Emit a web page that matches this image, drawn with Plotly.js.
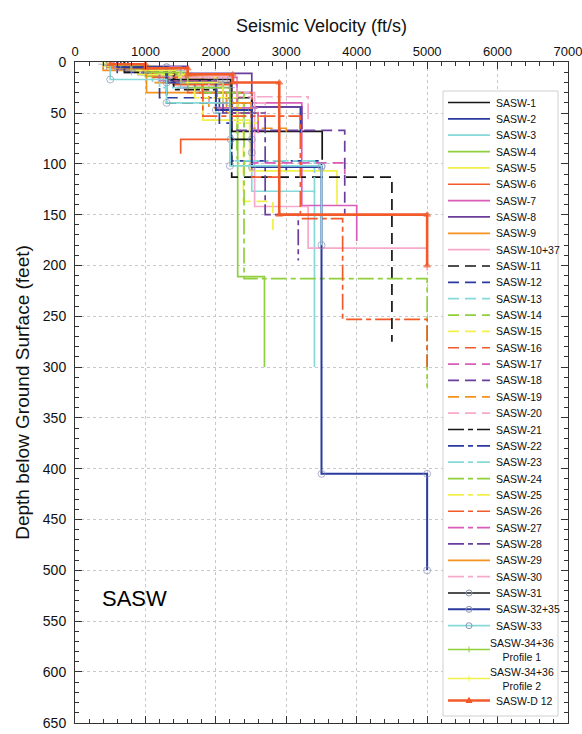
<!DOCTYPE html>
<html>
<head>
<meta charset="utf-8">
<script src="https://cdn.plot.ly/plotly-3.0.1.min.js"></script>
<style>html,body{margin:0;padding:0;background:#fff;}#chart{width:582px;height:734px;}</style>
</head>
<body>
<div id="chart"></div>
<script>
// ---------------- DATA ----------------
const seriesNames = [
  "SASW-1","SASW-2","SASW-3","SASW-4","SASW-5","SASW-6","SASW-7","SASW-8","SASW-9","SASW-10+37",
  "SASW-11","SASW-12","SASW-13","SASW-14","SASW-15","SASW-16","SASW-17","SASW-18","SASW-19","SASW-20",
  "SASW-21","SASW-22","SASW-23","SASW-24","SASW-25","SASW-26","SASW-27","SASW-28","SASW-29","SASW-30",
  "SASW-31","SASW-32+35","SASW-33","SASW-34+36<br>Profile 1","SASW-34+36<br>Profile 2","SASW-D 12"
];
// layer velocities (ft/s), one list per profile
const profileVelocities = [
  [750, 1415, 2225, 3510],
  [500, 900, 1700, 2510, 3200],
  [600, 1300, 2000, 2510, 3400],
  [450, 630, 1000, 1800, 2310, 2690],
  [400, 900, 1815, 2480, 3720],
  [540, 1400, 2210, 1500],
  [600, 1500, 2300, 3220, 4000],
  [700, 1600, 2510, 3220],
  [400, 1015, 2150, 2600],
  [550, 1200, 2000, 2550, 3310, 5000],
  [650, 1300, 2225, 4500],
  [600, 1200, 2050, 2225, 3500],
  [500, 1100, 2000, 2400],
  [500, 1200, 1900, 2300],
  [450, 1100, 2000, 2390, 2810],
  [500, 1000, 1600, 2510, 2900],
  [500, 1300, 2100, 2510, 3830],
  [600, 1400, 2225, 3830],
  [450, 1100, 1900, 2510, 3000],
  [500, 1200, 1900, 2700],
  [700, 1400, 2010, 2510],
  [600, 1300, 2000, 2510, 3000],
  [500, 1200, 2200, 3400],
  [500, 1100, 1800, 2400, 5000],
  [400, 1000, 1700, 2300, 2600],
  [500, 1100, 1815, 3200, 3800, 5000],
  [550, 1200, 2000, 2600],
  [600, 1300, 2100, 2700, 3170],
  [500, 1300, 2000, 2500],
  [600, 1500, 2300, 3310],
  [700, 1300, 2210, 2510],
  [600, 1300, 2000, 2510, 3500, 5000],
  [500, 1300, 2200, 3500],
  [450, 1000, 1600, 2200],
  [400, 800, 1500, 2100],
  [500, 1000, 1600, 2240, 2900, 5000]
];
// layer boundary depths (feet), one list per profile (top of first layer ... bottom of last)
const profileDepths = [
  [0, 8, 20, 68, 96],
  [0, 4, 12, 30, 44, 70],
  [0, 6, 18, 50, 127, 300],
  [0, 2, 7, 14, 30, 211, 300],
  [0, 3, 12, 57, 107, 140],
  [0, 6, 22, 76, 90],
  [0, 5, 15, 40, 141, 176],
  [0, 4, 11, 44, 66],
  [0, 8, 30, 50, 60],
  [0, 5, 15, 30, 142, 183, 205],
  [0, 6, 40, 113, 275],
  [0, 10, 35, 60, 97, 105],
  [0, 5, 20, 45, 65],
  [0, 4, 15, 40, 95],
  [0, 5, 15, 40, 137, 168],
  [0, 4, 12, 30, 113, 127],
  [0, 5, 20, 50, 99, 110],
  [0, 6, 25, 67, 150],
  [0, 5, 20, 45, 65, 75],
  [0, 4, 15, 40, 65],
  [0, 10, 27, 35, 50],
  [0, 6, 18, 40, 102, 110],
  [0, 5, 25, 97, 130],
  [0, 4, 12, 30, 213, 320],
  [0, 4, 12, 35, 60],
  [0, 5, 15, 53, 154, 253, 300],
  [0, 5, 18, 45, 70],
  [0, 6, 20, 50, 150, 195],
  [0, 6, 20, 40, 55],
  [0, 5, 15, 34, 60],
  [0, 5, 17, 76, 89],
  [0, 5, 20, 47, 103, 405, 500],
  [0, 17, 40, 102, 180],
  [0, 3, 10, 25, 45],
  [0, 2, 8, 20, 40],
  [0, 2, 6, 12, 20, 150, 200]
];

// ---------------- STYLES ----------------
const baseColors = ["#151515","#2b3a9e","#86d9d9","#8fd03c","#f2f04a","#f25a2a","#d95cb9","#6b3e9c","#f5911f","#f6a9cb"];
const dashSolid = "solid", dashDash = "11px,6px", dashDot = "16px,4px,5px,4px";
const extraColors = ["#151515","#2b3a9e","#86d9d9","#8fd03c","#f2f04a","#f25a2a"];
const extraMarkers = ["circle-open","circle-open","circle-open","cross-thin-open","cross-thin-open","triangle-up"];

function styleFor(i) {
  if (i < 30) {
    const c = baseColors[i % 10];
    let d = i < 10 ? dashSolid : (i < 20 ? dashDash : dashDot);
    if (i === 28) d = dashSolid;
    return {color: c, dash: d, width: 1.7, marker: null};
  }
  const k = i - 30;
  return {color: extraColors[k], dash: dashSolid, width: k === 5 ? 2.6 : (k === 1 ? 2 : 1.7), marker: extraMarkers[k]};
}

const traces = [];
for (let i = 0; i < seriesNames.length; i++) {
  const v = profileVelocities[i], d = profileDepths[i];
  const xs = [], ys = [];
  for (let j = 0; j < v.length; j++) {
    xs.push(v[j]); ys.push(d[j]);
    xs.push(v[j]); ys.push(d[j + 1]);
  }
  const st = styleFor(i);
  const tr = {
    x: xs, y: ys, type: "scatter", name: seriesNames[i],
    mode: st.marker ? "lines+markers" : "lines",
    line: {color: st.color, width: st.width, dash: st.dash},
    hoverinfo: "skip"
  };
  if (st.marker) {
    const isTri = st.marker === "triangle-up";
    const mcol = isTri ? st.color : "#8a94b8";
    tr.marker = {symbol: st.marker, size: ys.map(y => (y > 0 ? (isTri ? 6 : 7) : 0)),
      color: mcol, line: {color: mcol, width: 1}};
  }
  traces.push(tr);
}

// ---------------- LEGEND (drawn manually) ----------------
const plotL = 75, plotR = 568, plotT = 62, plotB = 723;
const px2x = p => (p - plotL) / (plotR - plotL);
const px2y = p => (plotB - p) / (plotB - plotT);

const shapes = [];
const annotations = [];
shapes.push({type: "rect", xref: "paper", yref: "paper",
  x0: px2x(443), x1: px2x(558), y0: px2y(716), y1: px2y(91),
  line: {color: "#d0d0d0", width: 1}, fillcolor: "#ffffff", layer: "above"});

const entryY = [];
for (let i = 0; i < 33; i++) entryY.push(102.5 + i * 16.35);
entryY.push(649.5); entryY.push(678.5); entryY.push(700.5);

for (let i = 0; i < seriesNames.length; i++) {
  const st = styleFor(i);
  const y = px2y(entryY[i]);
  shapes.push({type: "line", xref: "paper", yref: "paper",
    x0: px2x(448), x1: px2x(490), y0: y, y1: y,
    line: {color: st.color, width: st.width, dash: st.dash}, layer: "above"});
  if (st.marker) {
    if (st.marker === "circle-open") {
      shapes.push({type: "circle", xref: "paper", yref: "paper", xsizemode: "pixel", ysizemode: "pixel",
        xanchor: px2x(469), yanchor: y, x0: -3, x1: 3, y0: -3, y1: 3,
        line: {color: "#8a94b8", width: 1}, layer: "above"});
    } else if (st.marker === "triangle-up") {
      shapes.push({type: "path", xref: "paper", yref: "paper", xsizemode: "pixel", ysizemode: "pixel",
        xanchor: px2x(469), yanchor: y, path: "M-3,-2 L3,-2 L0,3 Z",
        fillcolor: st.color, line: {color: st.color, width: 1}, layer: "above"});
    } else {
      shapes.push({type: "line", xref: "paper", yref: "paper", xsizemode: "pixel", ysizemode: "pixel",
        xanchor: px2x(469), yanchor: y, x0: 0, x1: 0, y0: -3, y1: 3,
        line: {color: st.color, width: 1}, layer: "above"});
    }
  }
  const twoLine = seriesNames[i].indexOf("<br>") >= 0;
  annotations.push({xref: "paper", yref: "paper", x: twoLine ? px2x(522) : px2x(494), y: y,
    xanchor: twoLine ? "center" : "left", yanchor: "middle", align: "center",
    text: seriesNames[i], showarrow: false,
    font: {family: "Liberation Sans Narrow, Arial Narrow, Arial, sans-serif", size: 10.5, color: "#111"}});
}

annotations.push({xref: "paper", yref: "paper", x: px2x(134), y: px2y(598),
  text: "SASW", showarrow: false, xanchor: "center", yanchor: "middle",
  font: {family: "Arial, Liberation Sans, sans-serif", size: 22, color: "#000"}});

const layout = {
  width: 582, height: 734,
  margin: {l: plotL, r: 582 - plotR, t: plotT, b: 734 - plotB},
  paper_bgcolor: "#fff", plot_bgcolor: "#fff",
  showlegend: false,
  font: {family: "Arial, Liberation Sans, sans-serif", color: "#111"},
  xaxis: {
    side: "top", range: [-0.5, 7000.5], dtick: 1000, tick0: 0,
    ticks: "inside", ticklen: 7, tickwidth: 1, tickcolor: "#333",
    minor: {dtick: 200, ticks: "inside", ticklen: 4, tickcolor: "#333", showgrid: false},
    showline: true, linecolor: "#333", linewidth: 1, mirror: "allticks",
    showgrid: true, gridcolor: "#c8c8c8", griddash: "dot", gridwidth: 1, zeroline: false,
    tickfont: {size: 13, color: "#111"}, ticklabeloverflow: "allow",
    title: {text: "Seismic Velocity (ft/s)", font: {size: 18, color: "#111"}, standoff: 6}
  },
  yaxis: {
    range: [650.2, -0.2], dtick: 50, tick0: 0,
    ticks: "inside", ticklen: 7, tickwidth: 1, tickcolor: "#333",
    minor: {dtick: 10, ticks: "inside", ticklen: 4, tickcolor: "#333", showgrid: false},
    showline: true, linecolor: "#333", linewidth: 1, mirror: "allticks",
    showgrid: true, gridcolor: "#c8c8c8", griddash: "dot", gridwidth: 1, zeroline: false,
    tickfont: {size: 14, color: "#111"}, ticklabelstandoff: 5, ticklabeloverflow: "allow",
    title: {text: "Depth below Ground Surface (feet)", font: {size: 19, color: "#111"}, standoff: 8}
  },
  shapes: shapes,
  annotations: annotations
};

Plotly.newPlot("chart", traces, layout, {staticPlot: true, displayModeBar: false});
</script>
</body>
</html>
